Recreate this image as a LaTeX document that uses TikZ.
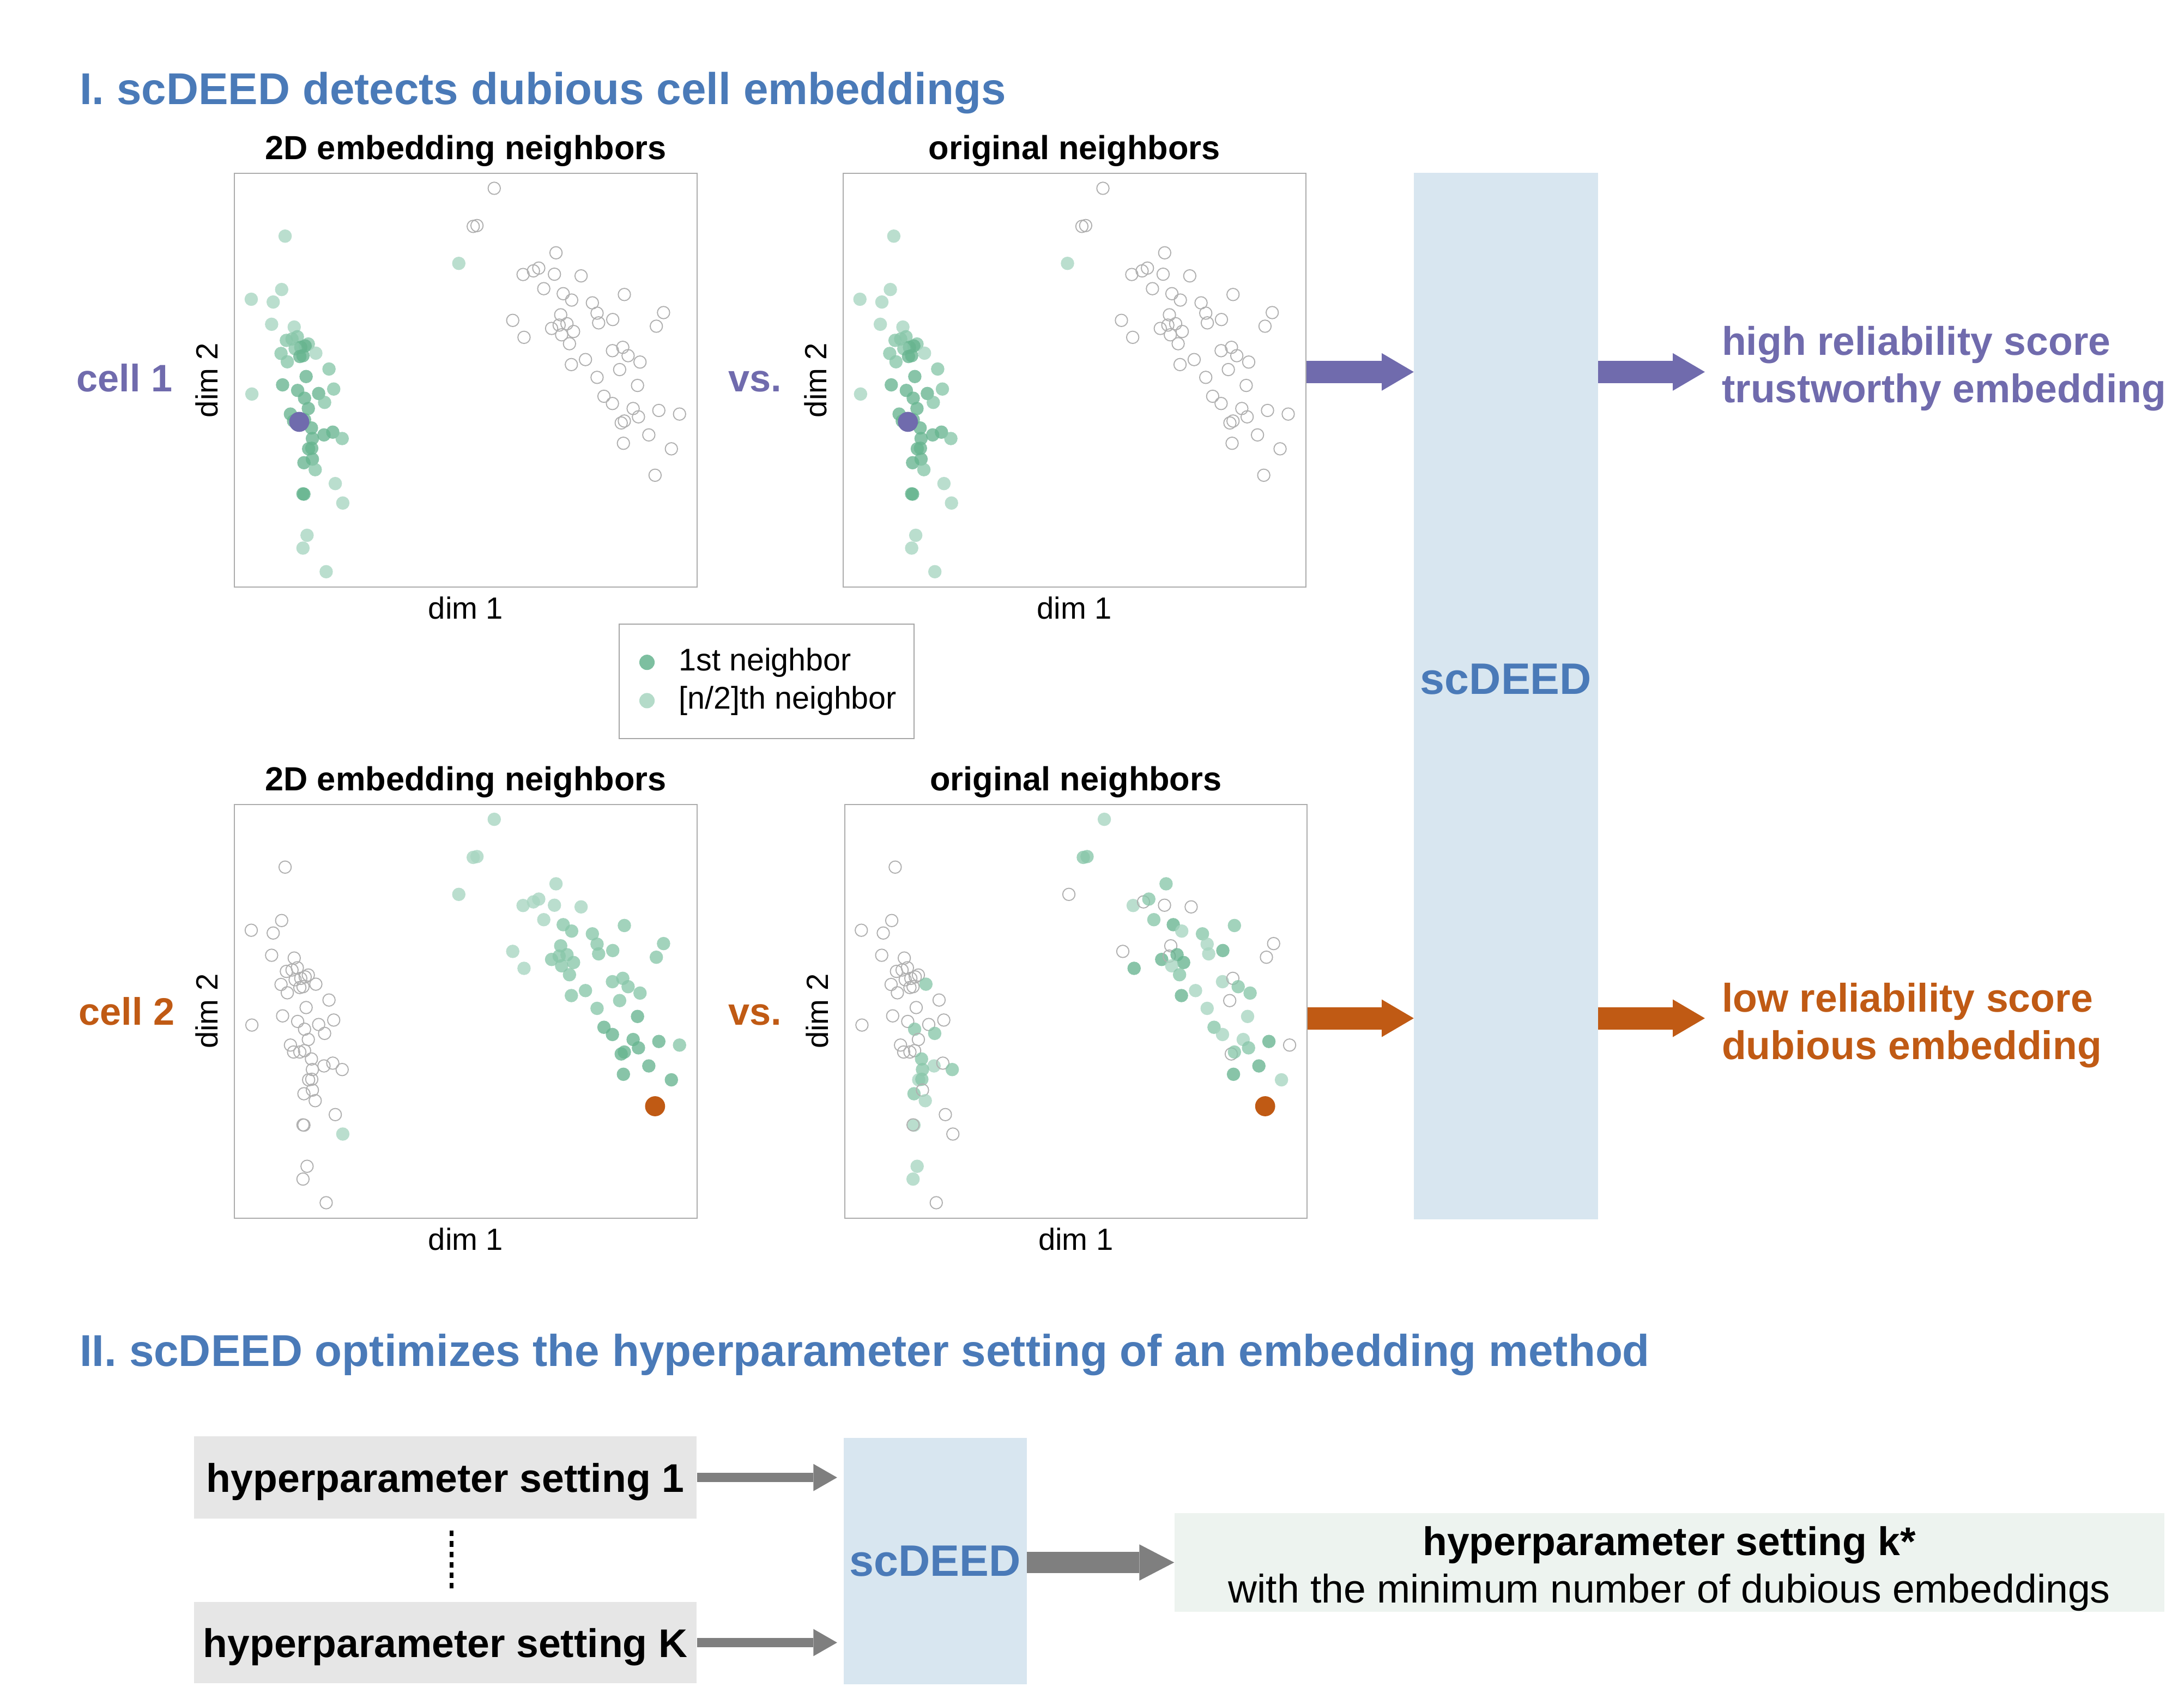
\documentclass[tikz,border=0pt]{standalone}
\usepackage{fontspec}
\setmainfont{Liberation Sans}
\usetikzlibrary{arrows.meta, positioning, calc}
\definecolor{deedblue}{HTML}{4A7AB8}
\definecolor{cellpurple}{HTML}{706BAD}
\definecolor{cellorange}{HTML}{C05A14}
\definecolor{nbdark}{HTML}{66B48F}
\definecolor{nbmid}{HTML}{88C6A9}
\definecolor{nblight}{HTML}{A7D5C0}
\definecolor{ringgray}{HTML}{B0B0B0}
\definecolor{boxblue}{HTML}{D8E6F0}
\definecolor{boxgray}{HTML}{E6E6E6}
\definecolor{boxmint}{HTML}{EDF3EF}
\definecolor{arrowgray}{HTML}{7F7F7F}

% x/y of a cell in the embedding, then its colour in plot A (= B), C and D
% d/m/l = near/middle/far neighbor, o = not a neighbor
\newcommand{\cellpoints}{%
218/260/l/o/o, 207/452/l/o/o, 110/487/l/o/o, 180/497/l/o/o, 175/577/l/o/o,
247/587/l/o/o, 222/635/m/o/o, 240/630/m/o/o, 257/622/m/o/o, 292/648/m/o/o,
282/655/d/o/o, 268/660/d/o/o, 250/665/m/o/o, 205/682/m/o/o, 265/693/d/o/o,
275/690/d/o/o, 316/681/l/o/m, 225/712/m/o/o, 358/738/m/o/o, 285/765/d/o/o,
210/795/d/o/o, 258/815/d/o/o, 373/810/m/o/o, 325/826/d/o/o, 112/828/l/o/o,
280/843/d/o/m, 344/858/m/o/m, 292/880/d/o/o, 235/900/d/o/o, 245/925/d/o/o,
265/925/d/o/o, 280/920/d/o/o, 302/950/d/o/m, 342/975/d/o/l, 370/965/d/o/o,
305/988/d/o/m, 400/988/m/o/m, 293/1025/d/o/l, 303/1023/d/o/m, 278/1075/d/o/m,
305/1062/d/o/o, 314/1100/m/o/l, 378/1150/l/o/o, 278/1188/d/o/l, 275/1187/d/o/o,
402/1220/l/l/o, 288/1336/l/o/l, 275/1382/l/o/l, 349/1467/l/o/o, 772/358/l/l/o,
885/88/o/l/l, 818/225/o/l/m, 830/222/o/l/m, 1082/320/o/l/m, 977/398/o/l/l,
1010/385/o/l/o, 1027/375/o/l/m, 1077/397/o/l/o, 1162/403/o/l/o, 1043/449/o/l/m,
1105/467/o/m/d, 1132/490/o/m/l, 1300/470/o/m/m, 1198/500/o/m/m, 1213/537/o/m/l,
1425/535/o/m/o, 1097/543/o/m/o, 944/563/o/l/o, 1263/560/o/m/d, 1218/572/o/m/l,
1402/584/o/m/o, 1068/592/o/m/d, 1092/580/o/m/o, 1117/575/o/m/d, 1138/603/o/m/d,
1100/615/o/m/l, 980/624/o/l/d, 1125/647/o/m/m, 1262/672/o/m/l, 1295/660/o/m/o,
1312/690/o/m/m, 1350/713/o/m/m, 1176/704/o/m/l, 1131/722/o/m/d, 1285/740/o/m/o,
1213/768/o/m/l, 1342/797/o/d/l, 1235/836/o/d/m, 1262/862/o/d/l, 1328/880/o/d/l,
1410/887/o/d/d, 1476/900/o/m/o, 1345/910/o/d/m, 1290/932/o/d/o, 1300/925/o/d/m,
1378/975/o/d/d, 1297/1005/o/d/d, 1450/1025/o/d/l, 1398/1120/o/o/o}

\begin{document}
\begin{tikzpicture}[x=1pt, y=-1pt,
    every node/.style={inner sep=0pt},
    heading/.style={font=\fontsize{32}{38}\selectfont\bfseries, text=deedblue, anchor=base west},
    plottitle/.style={font=\fontsize{24}{28}\selectfont\bfseries, anchor=base},
    axislabel/.style={font=\fontsize{22}{26}\selectfont, anchor=base},
    celllabel/.style={font=\fontsize{27.5}{32}\selectfont\bfseries, anchor=base},
    verdict/.style={font=\fontsize{28.7}{34}\selectfont\bfseries, align=left, anchor=north west},
    plotbox/.style={draw=gray!65, line width=0.8pt, minimum width=332pt, minimum height=297pt, anchor=north west},
    pto/.style={circle, draw=ringgray, line width=0.75pt, minimum size=8.8pt},
    ptd/.style={circle, fill=nbdark, fill opacity=0.78, minimum size=9.6pt},
    ptm/.style={circle, fill=nbmid, fill opacity=0.78, minimum size=9.6pt},
    ptl/.style={circle, fill=nblight, fill opacity=0.78, minimum size=9.6pt},
    bigdot/.style={circle, minimum size=14.4pt},
    bigarrow/.style={line width=16pt, -{Triangle[length=23pt, width=27pt, line width=0pt]}},
    thinarrow/.style={arrowgray, line width=6.7pt, -{Triangle[length=17pt, width=19.5pt, line width=0pt]}},
    fatarrow/.style={arrowgray, line width=15.5pt, -{Triangle[length=25pt, width=26pt, line width=0pt]}},
    hpbox/.style={fill=boxgray, minimum width=361pt, anchor=north west, text depth=0pt,
        font=\fontsize{28.7}{34}\selectfont\bfseries},
    deedtext/.style={font=\fontsize{31.6}{36}\selectfont\bfseries, text=deedblue}]
\useasboundingbox (0,0) rectangle (1568,1224);

% part I
\node[heading] (head1) at (57,75) {I. scDEED detects dubious cell embeddings};

\node[plotbox] (emb1) at (168,124) {};
\node[plotbox] (orig1) at (605,124) {};
\node[plotbox] (emb2) at (168,577) {};
\node[plotbox] (orig2) at (606,577) {};

\foreach \plot/\name in {emb1/2D embedding neighbors, orig1/original neighbors,
                         emb2/2D embedding neighbors, orig2/original neighbors} {
    \node[plottitle] at ([yshift=9.5pt]\plot.north) {\name};
    \node[axislabel] at ([yshift=-22.5pt]\plot.south) {dim 1};
    \node[axislabel, rotate=90] at ([xshift=-11.5pt]\plot.west) {dim 2};
}

% the same embedding, coloured four ways
\foreach \plot in {emb1, orig1} {
    \begin{scope}[shift={(\plot.north west)}]
        \foreach \ptx/\pty/\ta/\tc/\td in \cellpoints
            \node[pt\ta] at ({(\ptx-55)*0.2251}, {(\pty-32)*0.1996}) {};
        \node[bigdot, fill=cellpurple] at ({(263-55)*0.2251}, {(928-32)*0.1996}) {};
    \end{scope}
}
\begin{scope}[shift={(emb2.north west)}]
    \foreach \ptx/\pty/\ta/\tc/\td in \cellpoints
        \node[pt\tc] at ({(\ptx-55)*0.2251}, {(\pty-32)*0.1996}) {};
    \node[bigdot, fill=cellorange] at ({(1398-55)*0.2251}, {(1120-32)*0.1996}) {};
\end{scope}
\begin{scope}[shift={(orig2.north west)}]
    \foreach \ptx/\pty/\ta/\tc/\td in \cellpoints
        \node[pt\td] at ({(\ptx-55)*0.2251}, {(\pty-32)*0.1996}) {};
    \node[bigdot, fill=cellorange] at ({(1398-55)*0.2251}, {(1120-32)*0.1996}) {};
\end{scope}

\node[celllabel, text=cellpurple] (cell1) at (89.5,281) {cell 1};
\node[celllabel, text=cellpurple] (vs1) at (542,281) {vs.};
\node[celllabel, text=cellorange] (cell2) at (91,736) {cell 2};
\node[celllabel, text=cellorange] (vs2) at (542,736) {vs.};

% legend
\node[draw=gray!70, line width=0.8pt, minimum width=212pt, minimum height=82.5pt, anchor=north west] (legend) at (444,447.5) {};
\node[ptd, fill opacity=0.85, minimum size=11pt] (legdark) at (464.5,475.5) {};
\node[ptl, fill opacity=0.85, minimum size=11pt] (leglight) at (464.5,503) {};
\node[font=\fontsize{22.5}{26}\selectfont, right=17pt of legdark] {1st neighbor};
\node[font=\fontsize{22.5}{26}\selectfont, right=17pt of leglight] {[n/2]th neighbor};

% scDEED scoring
\node[fill=boxblue, minimum width=132pt, minimum height=751pt, anchor=north west] (deed) at (1015,124) {};
\node[deedtext, anchor=base] (deedlab) at ([yshift=1.5pt]deed.center) {scDEED};

\node[verdict, text=cellpurple] (verdict1) at (1236,233.9) {high reliability score\\trustworthy embedding};
\node[verdict, text=cellorange] (verdict2) at (1236,705.5) {low reliability score\\dubious embedding};

\coordinate (row1) at (0,267);
\coordinate (row2) at (0,731);
\draw[bigarrow, cellpurple] (orig1.east |- row1) -- (deed.west |- row1);
\draw[bigarrow, cellpurple] (deed.east |- row1) -- ([xshift=-12pt]verdict1.west |- row1);
\draw[bigarrow, cellorange] (orig2.east |- row2) -- (deed.west |- row2);
\draw[bigarrow, cellorange] (deed.east |- row2) -- ([xshift=-12pt]verdict2.west |- row2);

% part II
\node[heading] (head2) at (57,981) {II. scDEED optimizes the hyperparameter setting of an embedding method};

\node[hpbox, minimum height=59pt] (hpone) at (139,1031) {hyperparameter setting 1};
\node[hpbox, minimum height=58pt] (hpK) at (139,1150) {hyperparameter setting K};
\draw[dashed, line width=2.5pt, dash pattern=on 4pt off 3.5pt]
    ([xshift=4.5pt, yshift=-8.5pt]hpone.south) -- ([xshift=4.5pt, yshift=6.5pt]hpK.north);

\node[deedtext, fill=boxblue, minimum width=131.5pt, minimum height=177pt, text depth=0pt, anchor=north west] (deedopt) at (605.5,1032) {scDEED};

\node[fill=boxmint, minimum width=710.5pt, minimum height=71pt, anchor=north west] (best) at (843,1086) {};
\node[font=\fontsize{28.7}{34}\selectfont, align=center, anchor=north] (besttext) at ([yshift=-9.7pt]best.north)
    {{\bfseries hyperparameter setting k*}\\with the minimum number of dubious embeddings};

\draw[thinarrow] (hpone.east) -- ([xshift=-4.5pt]deedopt.west |- hpone.east);
\draw[thinarrow] (hpK.east) -- ([xshift=-4.5pt]deedopt.west |- hpK.east);
\draw[fatarrow] (deedopt.east |- best.west) -- (best.west);
\end{tikzpicture}
\end{document}
